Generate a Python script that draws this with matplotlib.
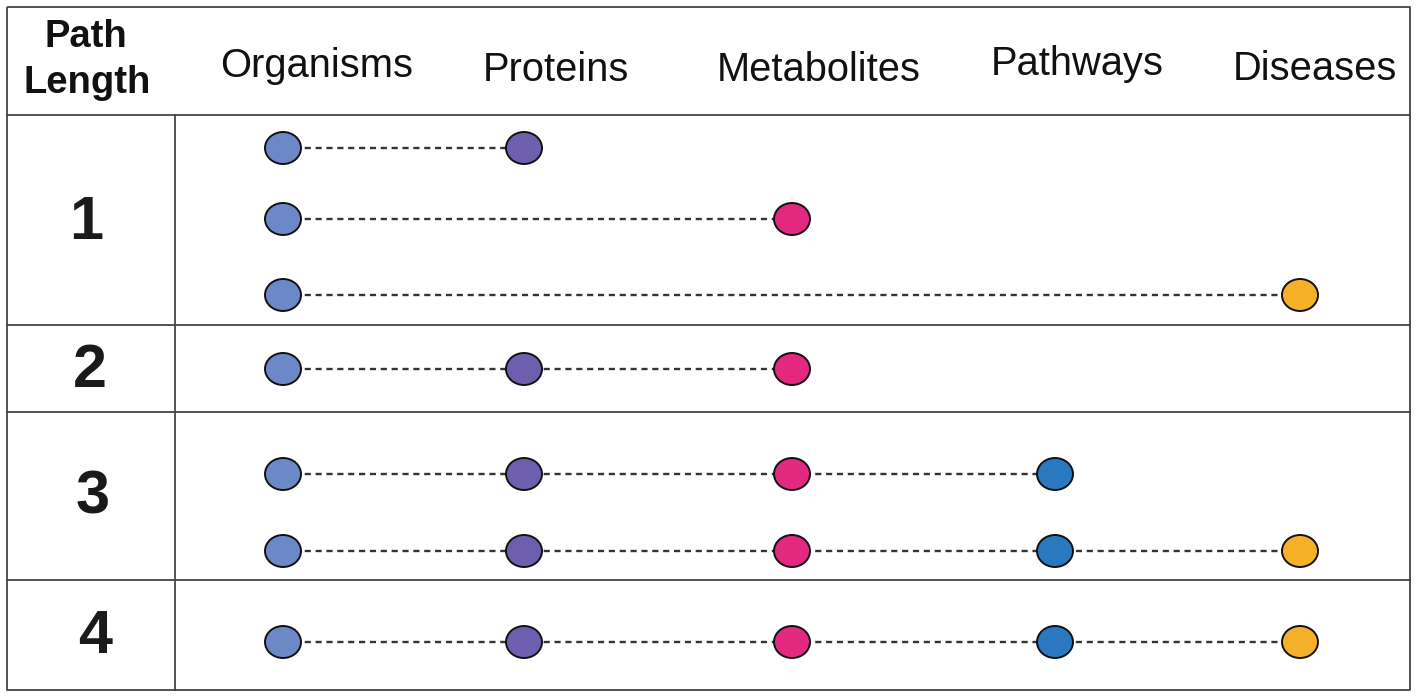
import matplotlib
matplotlib.use("Agg")
import matplotlib.pyplot as plt
from matplotlib.patches import Ellipse

plt.rcParams['font.family'] = ['Liberation Sans', 'DejaVu Sans']

# ---- data ----
categories = ["Organisms", "Proteins", "Metabolites", "Pathways", "Diseases"]
colors = ["#6d88c6", "#6e5fae", "#e2287f", "#2a78bf", "#f5b02a"]
path_lengths = ["1", "2", "3", "4"]
# each group: list of paths, each path a list of category indices
paths = [
    [[0, 1], [0, 2], [0, 4]],
    [[0, 1, 2]],
    [[0, 1, 2, 3], [0, 1, 2, 3, 4]],
    [[0, 1, 2, 3, 4]],
]

# ---- layout (pixel coordinates) ----
W, H = 1417, 697
col_x = [283, 524, 792, 1055, 1300]
header_x = [317, 556, 819, 1077, 1315]
header_base = [77, 81, 81, 75, 80]
row_y = [[148, 219, 295], [369], [474, 551], [642]]
label_pos = [(86, 239), (90, 387), (93, 513), (95, 653)]
box = dict(left=7, right=1410, top=7, bottom=690)
header_bottom = 115
col_div = 175
group_div = [325, 412, 580]

fig = plt.figure(figsize=(W / 100, H / 100), dpi=100)
ax = fig.add_axes([0, 0, 1, 1])
ax.set_xlim(0, W)
ax.set_ylim(H, 0)
ax.axis('off')

lc = "#444444"
lw = 1.3
# outer frame
ax.plot([box['left'], box['right'], box['right'], box['left'], box['left']],
        [box['top'], box['top'], box['bottom'], box['bottom'], box['top']],
        color=lc, lw=lw, solid_capstyle='butt')
ax.plot([box['left'], box['right']], [header_bottom, header_bottom], color=lc, lw=lw)
ax.plot([col_div, col_div], [header_bottom, box['bottom']], color=lc, lw=lw)
for gy in group_div:
    ax.plot([box['left'], box['right']], [gy, gy], color=lc, lw=lw)

# headers
ax.text(86, 47, "Path", ha='center', va='baseline', fontsize=27.5,
        fontweight='bold', color='#111111')
ax.text(87.5, 93, "Length", ha='center', va='baseline', fontsize=27.5,
        fontweight='bold', color='#111111')
for name, x, y in zip(categories, header_x, header_base):
    ax.text(x, y, name, ha='center', va='baseline', fontsize=28.7, color='#111111')

# row labels
for lab, (x, y) in zip(path_lengths, label_pos):
    ax.text(x, y, lab, ha='center', va='baseline', fontsize=44,
            fontweight='bold', color='#1a1a1a')

# paths
for group, ys in zip(paths, row_y):
    for path, y in zip(group, ys):
        xs = [col_x[i] for i in path]
        ax.plot(xs, [y] * len(xs), color='#333333', lw=1.7,
                dashes=(2.6, 2.0), zorder=2)
        for i in path:
            ax.add_patch(Ellipse((col_x[i], y), 36, 32, facecolor=colors[i],
                                 edgecolor='#111111', lw=1.4, zorder=3))

fig.savefig("out.png", dpi=100)
